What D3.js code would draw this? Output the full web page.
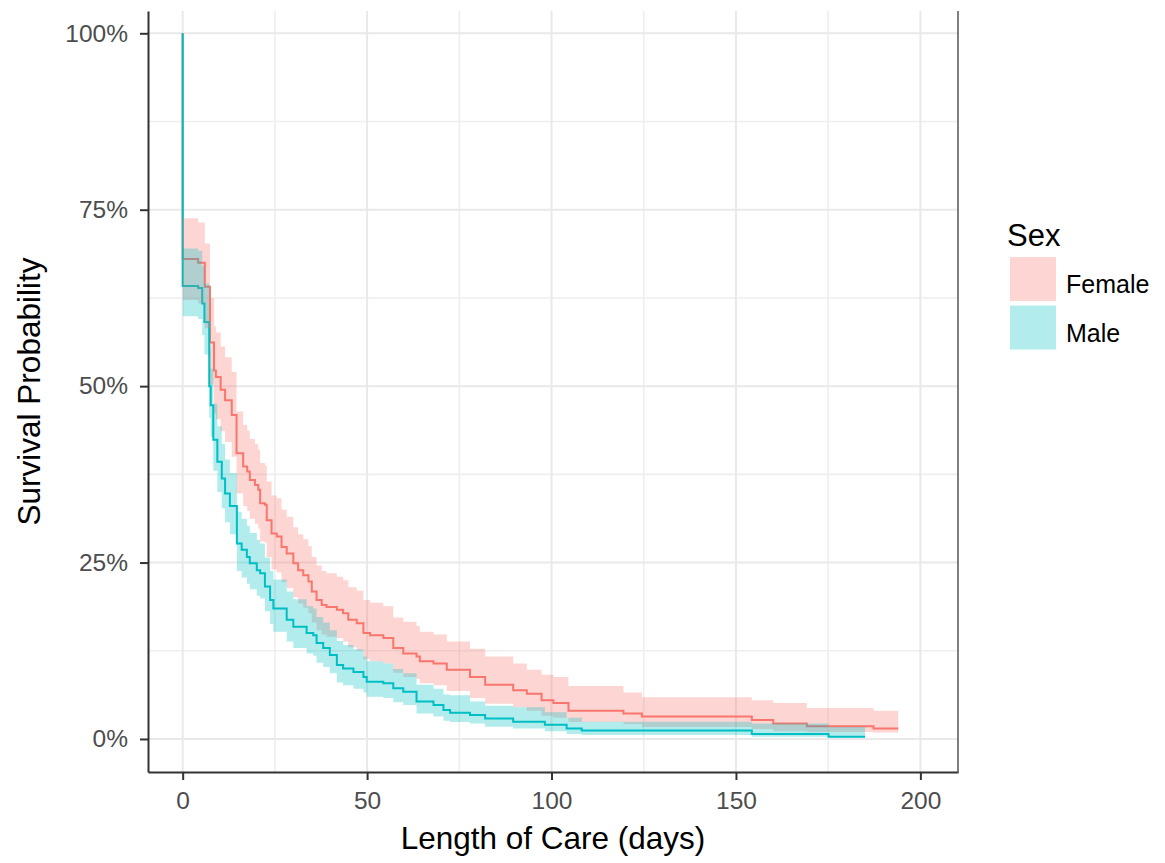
<!DOCTYPE html>
<html>
<head>
<meta charset="utf-8">
<script src="https://cdn.jsdelivr.net/npm/d3@7"></script>
<style>
  body { margin: 0; background: #fff; }
  svg text { font-family: "Liberation Sans", Arial, sans-serif; }
</style>
</head>
<body>
<div id="chart"></div>
<script>
// Kaplan-Meier estimates (days, survival, CI upper, CI lower)
var femaleTime = [0, 0, 4.2, 6.0, 7.4, 8.5, 9.0, 10.3, 11.5, 13.3, 14.6, 16.4, 17.5, 18.2, 19.6, 20.5, 21.0, 22.3, 22.8, 24.1, 25.5, 26.8, 28.2, 30.0, 31.3, 32.7, 34.1, 35.0, 36.3, 37.7, 39.0, 41.8, 43.5, 44.9, 47.2, 49.0, 50.8, 54.4, 57.1, 59.8, 63.4, 64.3, 68.0, 71.6, 77.9, 82.0, 89.6, 93.3, 97.3, 100.5, 104.6, 119.5, 124.5, 154.3, 160.1, 169.2, 187.3, 194.0];
var femaleSurv = [1, .680, .675, .641, .562, .522, .513, .495, .480, .459, .405, .386, .379, .367, .360, .353, .334, .332, .310, .291, .287, .272, .263, .249, .239, .232, .223, .209, .197, .190, .187, .183, .178, .169, .164, .150, .147, .143, .129, .121, .117, .110, .107, .098, .088, .077, .069, .064, .055, .051, .040, .036, .032, .027, .022, .018, .015, .015];
var femaleUpper = [1, .738, .732, .702, .625, .585, .576, .556, .541, .520, .464, .445, .437, .425, .418, .410, .391, .388, .365, .345, .341, .325, .315, .300, .290, .283, .273, .258, .246, .238, .235, .230, .225, .215, .210, .197, .193, .188, .172, .166, .160, .152, .148, .138, .128, .117, .107, .098, .091, .088, .075, .066, .059, .055, .051, .044, .040, .040];
var femaleLower = [1, .622, .617, .582, .502, .462, .453, .436, .421, .400, .348, .330, .323, .312, .305, .298, .280, .278, .258, .240, .236, .222, .214, .201, .192, .186, .178, .165, .154, .148, .145, .143, .138, .130, .125, .113, .110, .107, .094, .088, .085, .079, .076, .068, .058, .050, .045, .040, .033, .030, .024, .021, .017, .014, .011, .010, .009, .009];

var maleTime = [0, 0, 4.2, 5.3, 5.9, 7.2, 7.6, 8.3, 9.4, 10.6, 11.5, 12.8, 14.7, 16.0, 17.4, 18.2, 20.1, 21.0, 22.3, 23.7, 24.6, 28.2, 30.0, 33.6, 35.4, 36.3, 38.1, 39.9, 41.8, 43.5, 46.3, 49.0, 49.9, 54.4, 57.1, 59.8, 63.4, 68.0, 70.7, 72.5, 77.9, 82.0, 89.6, 98.2, 104.1, 108.2, 154.3, 175.1, 185.0];
var maleSurv = [1, .642, .639, .617, .591, .500, .473, .424, .393, .369, .348, .330, .277, .268, .258, .249, .239, .235, .216, .197, .185, .169, .159, .150, .147, .136, .129, .119, .105, .100, .095, .088, .081, .079, .072, .067, .053, .048, .041, .037, .034, .029, .0245, .020, .015, .012, .007, .0033, .0033];
var maleUpper = [1, .695, .692, .670, .645, .552, .525, .475, .443, .418, .396, .377, .322, .312, .302, .292, .282, .277, .257, .238, .226, .209, .198, .188, .185, .173, .165, .154, .139, .133, .127, .117, .110, .107, .099, .093, .077, .071, .063, .062, .053, .047, .045, .038, .030, .0245, .022, .017, .017];
var maleLower = [1, .599, .595, .572, .545, .455, .428, .380, .350, .327, .307, .290, .238, .229, .220, .212, .203, .199, .181, .163, .152, .138, .129, .121, .118, .108, .102, .093, .080, .076, .071, .066, .060, .058, .052, .048, .036, .032, .026, .024, .022, .0174, .015, .011, .007, .0057, .0033, .0024, .0024];

var groups = ["Female", "Male"];
var colors = ["#F8766D", "#00BFC4"];
var xTicks = [0, 50, 100, 150, 200];
var xMinor = [25, 75, 125, 175];
var yTicks = [0, 0.25, 0.5, 0.75, 1];
var yMinor = [0.125, 0.375, 0.625, 0.875];

(function () {
	function rows(t, s, u, l) {
		return t.map(function (d, i) { return { t: d, s: s[i], u: u[i], l: l[i] }; });
	}
	var series = [
		rows(femaleTime, femaleSurv, femaleUpper, femaleLower),
		rows(maleTime, maleSurv, maleUpper, maleLower)
	];

	var W = 1165, H = 863;
	var pLeft = 148, pRight = 958, pTop = 11, pBottom = 772;

	var svg = d3.select("#chart").append("svg")
		.attr("width", W)
		.attr("height", H);

	var x = d3.scaleLinear().domain([-9.4, 210.2]).range([pLeft, pRight]);
	var y = d3.scaleLinear().domain([-0.0468, 1.0316]).range([pBottom, pTop]);

	// grid
	var grid = svg.append("g");
	grid.selectAll(".xmin").data(xMinor).enter().append("line")
		.attr("x1", d => x(d)).attr("x2", d => x(d)).attr("y1", pTop).attr("y2", pBottom)
		.attr("stroke", "#eeeeee").attr("stroke-width", 1.6);
	grid.selectAll(".ymin").data(yMinor).enter().append("line")
		.attr("y1", d => y(d)).attr("y2", d => y(d)).attr("x1", pLeft).attr("x2", pRight)
		.attr("stroke", "#eeeeee").attr("stroke-width", 1.6);
	grid.selectAll(".xmaj").data(xTicks).enter().append("line")
		.attr("x1", d => x(d)).attr("x2", d => x(d)).attr("y1", pTop).attr("y2", pBottom)
		.attr("stroke", "#e9e9e9").attr("stroke-width", 2);
	grid.selectAll(".ymaj").data(yTicks).enter().append("line")
		.attr("y1", d => y(d)).attr("y2", d => y(d)).attr("x1", pLeft).attr("x2", pRight)
		.attr("stroke", "#e9e9e9").attr("stroke-width", 2);

	var line = d3.line()
		.x(d => x(d.t)).y(d => y(d.s))
		.curve(d3.curveStepAfter);
	var band = d3.area()
		.x(d => x(d.t)).y0(d => y(d.l)).y1(d => y(d.u))
		.curve(d3.curveStepAfter);

	// lines first, ribbons drawn over them (as in the original)
	series.forEach(function (s, i) {
		svg.append("path")
			.attr("d", line(s))
			.attr("fill", "none")
			.attr("stroke", colors[i])
			.attr("stroke-width", 2);
	});
	series.forEach(function (s, i) {
		svg.append("path")
			.attr("d", band(s.slice(1)))
			.attr("fill", colors[i])
			.attr("fill-opacity", 0.3);
	});

	// axes
	var yAxis = d3.axisLeft(y)
		.tickValues(yTicks)
		.tickFormat(d3.format(".0%"))
		.tickSize(8).tickSizeOuter(0).tickPadding(12);
	var xAxis = d3.axisBottom(x)
		.tickValues(xTicks)
		.tickSize(8).tickSizeOuter(0).tickPadding(12);

	var gy = svg.append("g").attr("transform", "translate(" + pLeft + ",0)").call(yAxis);
	var gx = svg.append("g").attr("transform", "translate(0," + pBottom + ")").call(xAxis);
	[gx, gy].forEach(function (g) {
		g.select(".domain").attr("stroke", "#333").attr("stroke-width", 2);
		g.selectAll(".tick line").attr("stroke", "#333").attr("stroke-width", 2);
		g.selectAll(".tick text").attr("fill", "#4d4d4d").style("font-size", "24.5px");
	});

	svg.append("line")
		.attr("x1", pRight).attr("x2", pRight).attr("y1", pTop).attr("y2", pBottom + 1)
		.attr("stroke", "#555").attr("stroke-width", 1.5);

	// titles
	svg.append("text")
		.attr("x", (pLeft + pRight) / 2).attr("y", 849)
		.attr("text-anchor", "middle")
		.style("font-size", "31.5px")
		.text("Length of Care (days)");
	svg.append("text")
		.attr("transform", "translate(40," + (pTop + pBottom) / 2 + ") rotate(-90)")
		.attr("text-anchor", "middle")
		.style("font-size", "31.5px")
		.text("Survival Probability");

	// legend
	var legend = svg.append("g");
	legend.append("text")
		.attr("x", 1007).attr("y", 246)
		.style("font-size", "31px")
		.text("Sex");
	groups.forEach(function (g, i) {
		legend.append("rect")
			.attr("x", 1010).attr("y", 257 + i * 48.5)
			.attr("width", 46).attr("height", 44)
			.attr("fill", colors[i]).attr("fill-opacity", 0.3);
		legend.append("text")
			.attr("x", 1066).attr("y", 293 + i * 49)
			.style("font-size", "25px")
			.text(g);
	});
})();
</script>
</body>
</html>
